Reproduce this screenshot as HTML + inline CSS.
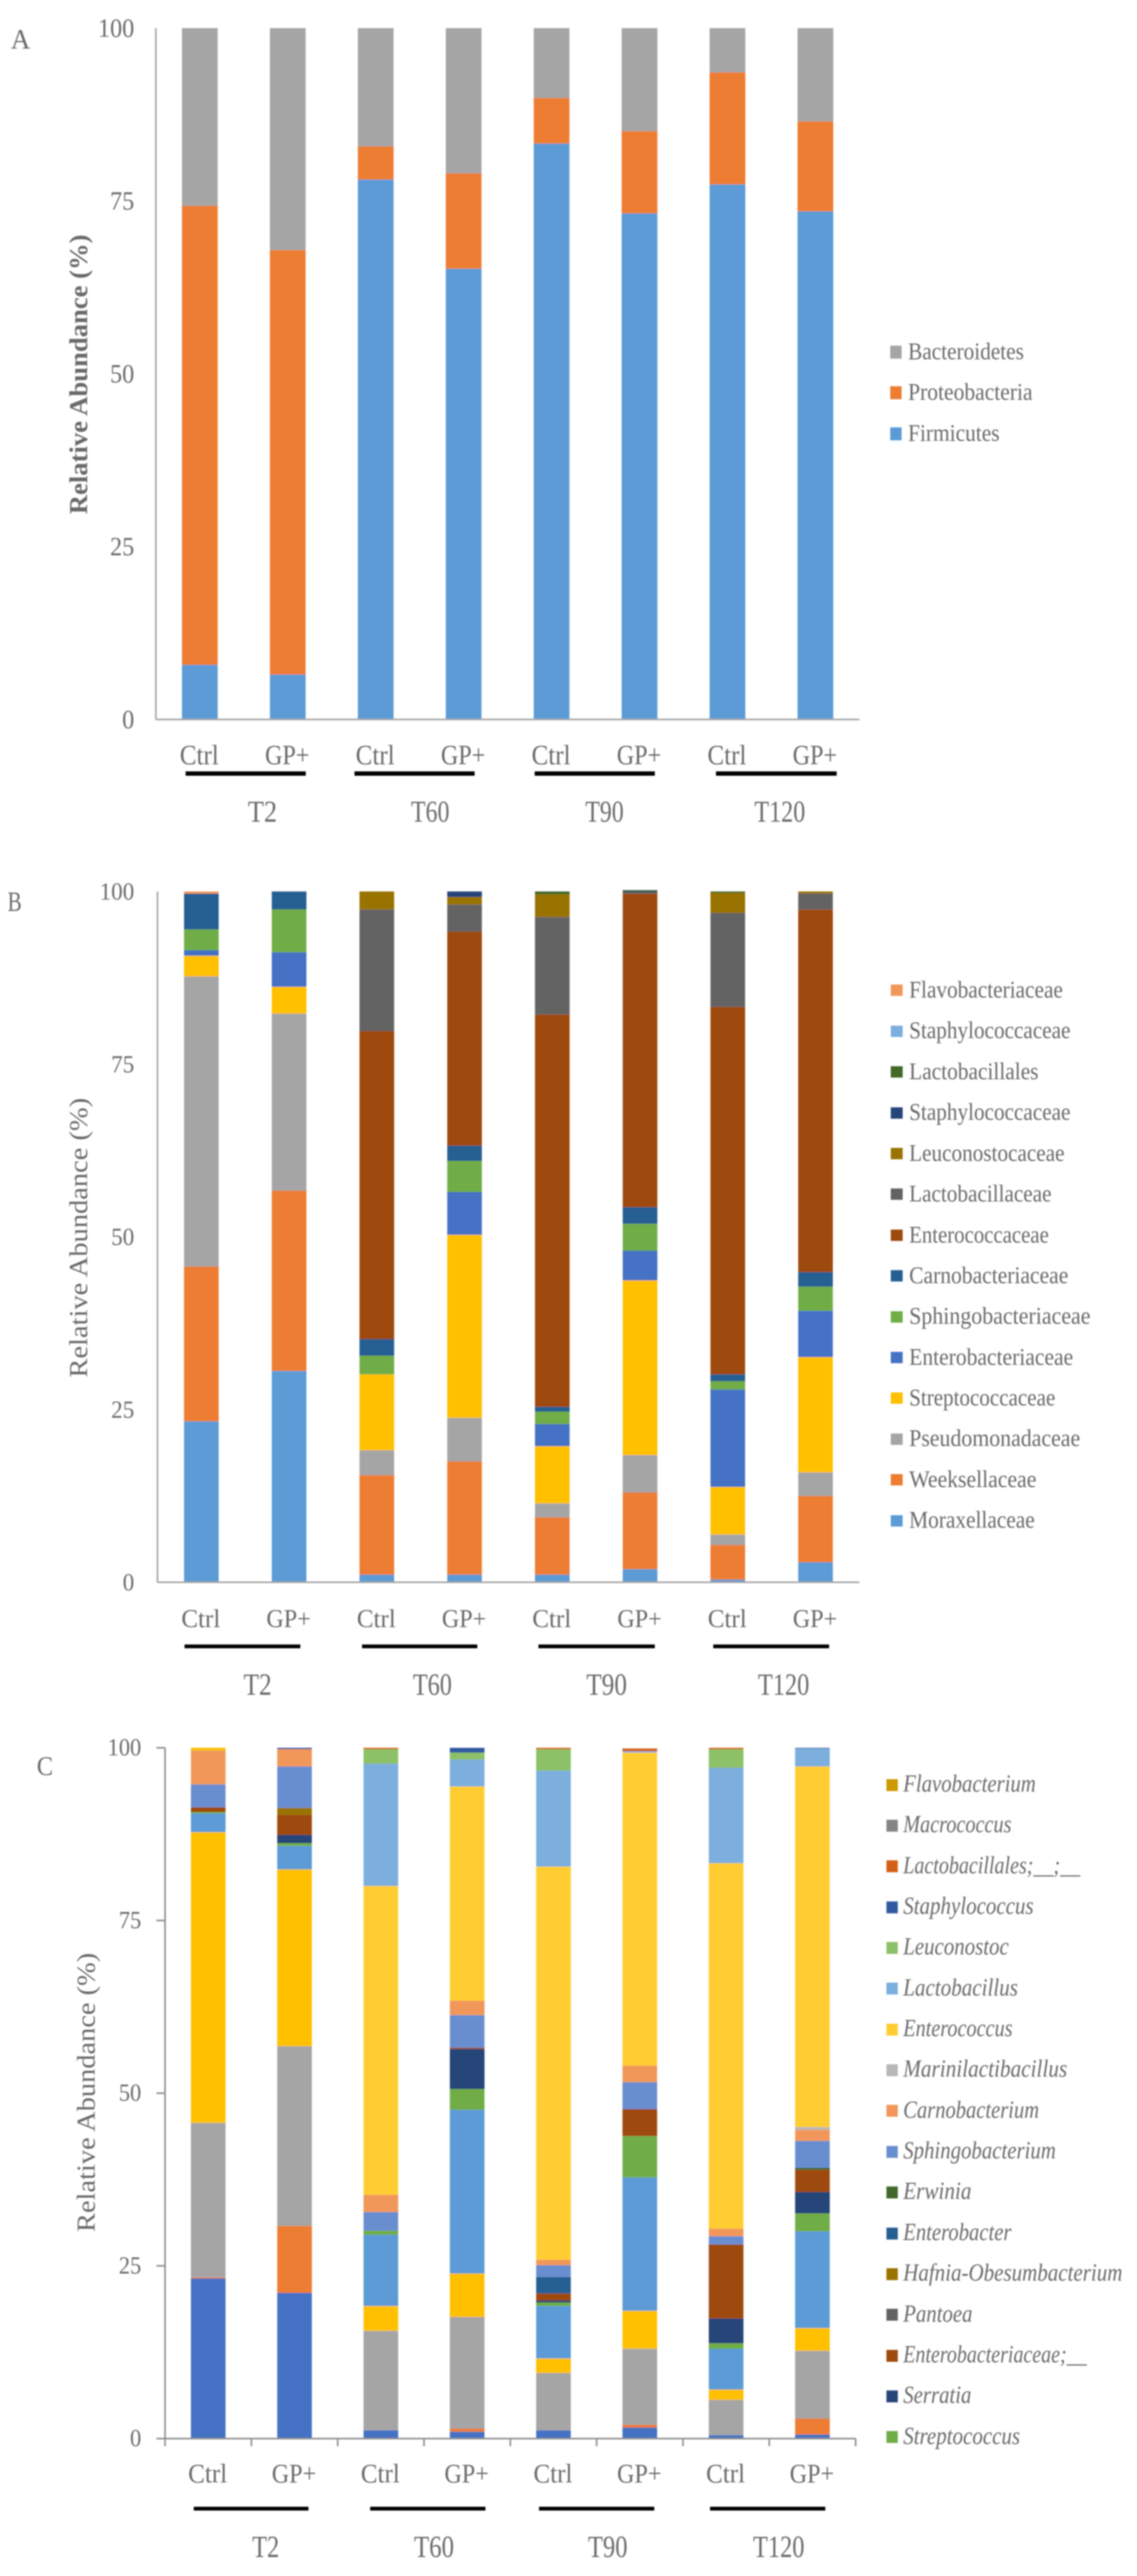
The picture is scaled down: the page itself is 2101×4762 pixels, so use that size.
<!DOCTYPE html>
<html lang="en">
<head>
<meta charset="utf-8">
<title>Relative abundance stacked bar charts</title>
<style>
html,body{margin:0;padding:0;background:#fff;}
svg{display:block;}
text{font-family:"Liberation Serif",serif;fill:#6b6b6b;}
.leg{font-size:44px;}
.legi{font-size:45px;font-style:italic;}
</style>
</head>
<body>
<svg id="figure" xmlns="http://www.w3.org/2000/svg" width="2101" height="4762" viewBox="0 0 2101 4762">
<defs><filter id="soft" x="0" y="0" width="100%" height="100%"><feGaussianBlur stdDeviation="1.2"/></filter></defs>
<rect width="2101" height="4762" fill="#fff"/>
<g filter="url(#soft)">

<g id="panel-a">
  <text x="20" y="90" font-size="52" textLength="36" lengthAdjust="spacingAndGlyphs">A</text>
  <text transform="rotate(-90 161 692)" x="161" y="692" text-anchor="middle" font-size="48" font-weight="bold" fill="#7f7f7f" textLength="517" lengthAdjust="spacingAndGlyphs">Relative Abundance (%)</text>
  <g fill="#000">
    <rect x="343" y="1426" width="222" height="8"/><rect x="655" y="1426" width="222" height="8"/><rect x="988" y="1426" width="222" height="8"/><rect x="1323" y="1426" width="223" height="8"/>
  </g>
  <g font-size="56">
    <text x="485" y="1519" text-anchor="middle" textLength="54" lengthAdjust="spacingAndGlyphs">T2</text>
    <text x="795" y="1519" text-anchor="middle" textLength="71" lengthAdjust="spacingAndGlyphs">T60</text>
    <text x="1117" y="1519" text-anchor="middle" textLength="71" lengthAdjust="spacingAndGlyphs">T90</text>
    <text x="1441" y="1519" text-anchor="middle" textLength="94" lengthAdjust="spacingAndGlyphs">T120</text>
  </g>
  <g>
    <g><rect x="1645" y="639" width="21" height="24" fill="#a5a5a5"/><text class="leg" x="1678" y="664" textLength="214" lengthAdjust="spacingAndGlyphs">Bacteroidetes</text></g>
    <g><rect x="1645" y="714" width="21" height="24" fill="#ed7d31"/><text class="leg" x="1678" y="739" textLength="230" lengthAdjust="spacingAndGlyphs">Proteobacteria</text></g>
    <g><rect x="1645" y="790" width="21" height="24" fill="#5b9bd5"/><text class="leg" x="1678" y="815" textLength="169" lengthAdjust="spacingAndGlyphs">Firmicutes</text></g>
  </g>
</g>

<g id="panel-b">
  <text x="14" y="1684" font-size="52" textLength="26" lengthAdjust="spacingAndGlyphs">B</text>
  <text transform="rotate(-90 161 2288)" x="161" y="2288" text-anchor="middle" font-size="48" textLength="517" lengthAdjust="spacingAndGlyphs">Relative Abundance (%)</text>
  <g fill="#000">
    <rect x="341" y="3040" width="214" height="7"/><rect x="669" y="3040" width="213" height="7"/><rect x="995" y="3040" width="215" height="7"/><rect x="1318" y="3040" width="214" height="7"/>
  </g>
  <g font-size="57">
    <text x="476" y="3133" text-anchor="middle" textLength="52" lengthAdjust="spacingAndGlyphs">T2</text>
    <text x="799" y="3133" text-anchor="middle" textLength="72" lengthAdjust="spacingAndGlyphs">T60</text>
    <text x="1121" y="3133" text-anchor="middle" textLength="75" lengthAdjust="spacingAndGlyphs">T90</text>
    <text x="1448" y="3133" text-anchor="middle" textLength="95" lengthAdjust="spacingAndGlyphs">T120</text>
  </g>
  <g>
    <g><rect x="1646" y="1820" width="22" height="21" fill="#f1975a"/><text class="leg" x="1680" y="1844" textLength="284" lengthAdjust="spacingAndGlyphs">Flavobacteriaceae</text></g>
    <g><rect x="1646" y="1896" width="22" height="21" fill="#7cafdd"/><text class="leg" x="1680" y="1919" textLength="298" lengthAdjust="spacingAndGlyphs">Staphylococcaceae</text></g>
    <g><rect x="1646" y="1971" width="22" height="21" fill="#43682b"/><text class="leg" x="1680" y="1995" textLength="239" lengthAdjust="spacingAndGlyphs">Lactobacillales</text></g>
    <g><rect x="1646" y="2047" width="22" height="21" fill="#264478"/><text class="leg" x="1680" y="2070" textLength="298" lengthAdjust="spacingAndGlyphs">Staphylococcaceae</text></g>
    <g><rect x="1646" y="2122" width="22" height="21" fill="#997300"/><text class="leg" x="1680" y="2146" textLength="287" lengthAdjust="spacingAndGlyphs">Leuconostocaceae</text></g>
    <g><rect x="1646" y="2197" width="22" height="21" fill="#636363"/><text class="leg" x="1680" y="2221" textLength="263" lengthAdjust="spacingAndGlyphs">Lactobacillaceae</text></g>
    <g><rect x="1646" y="2273" width="22" height="21" fill="#9e480e"/><text class="leg" x="1680" y="2297" textLength="258" lengthAdjust="spacingAndGlyphs">Enterococcaceae</text></g>
    <g><rect x="1646" y="2348" width="22" height="21" fill="#255e91"/><text class="leg" x="1680" y="2372" textLength="294" lengthAdjust="spacingAndGlyphs">Carnobacteriaceae</text></g>
    <g><rect x="1646" y="2424" width="22" height="21" fill="#70ad47"/><text class="leg" x="1680" y="2447" textLength="335" lengthAdjust="spacingAndGlyphs">Sphingobacteriaceae</text></g>
    <g><rect x="1646" y="2499" width="22" height="21" fill="#4472c4"/><text class="leg" x="1680" y="2523" textLength="303" lengthAdjust="spacingAndGlyphs">Enterobacteriaceae</text></g>
    <g><rect x="1646" y="2574" width="22" height="21" fill="#ffc000"/><text class="leg" x="1680" y="2598" textLength="270" lengthAdjust="spacingAndGlyphs">Streptococcaceae</text></g>
    <g><rect x="1646" y="2650" width="22" height="21" fill="#a5a5a5"/><text class="leg" x="1680" y="2673" textLength="316" lengthAdjust="spacingAndGlyphs">Pseudomonadaceae</text></g>
    <g><rect x="1646" y="2725" width="22" height="21" fill="#ed7d31"/><text class="leg" x="1680" y="2749" textLength="235" lengthAdjust="spacingAndGlyphs">Weeksellaceae</text></g>
    <g><rect x="1646" y="2801" width="22" height="21" fill="#5b9bd5"/><text class="leg" x="1680" y="2824" textLength="232" lengthAdjust="spacingAndGlyphs">Moraxellaceae</text></g>
  </g>
</g>

<g id="panel-c">
  <text x="68" y="3281" font-size="50" textLength="30" lengthAdjust="spacingAndGlyphs">C</text>
  <text transform="rotate(-90 175 3868)" x="175" y="3868" text-anchor="middle" font-size="48" textLength="516" lengthAdjust="spacingAndGlyphs">Relative Abundance (%)</text>
  <g fill="#000">
    <rect x="358" y="4634" width="212" height="7"/><rect x="684" y="4634" width="213" height="7"/><rect x="996" y="4634" width="213" height="7"/><rect x="1312" y="4634" width="213" height="7"/>
  </g>
  <g font-size="57">
    <text x="491" y="4727" text-anchor="middle" textLength="50" lengthAdjust="spacingAndGlyphs">T2</text>
    <text x="802" y="4727" text-anchor="middle" textLength="74" lengthAdjust="spacingAndGlyphs">T60</text>
    <text x="1123" y="4727" text-anchor="middle" textLength="73" lengthAdjust="spacingAndGlyphs">T90</text>
    <text x="1439" y="4727" text-anchor="middle" textLength="95" lengthAdjust="spacingAndGlyphs">T120</text>
  </g>
  <g>
    <g><rect x="1638" y="3289" width="21" height="22" fill="#cc9a00"/><text class="legi" x="1669" y="3312" textLength="245" lengthAdjust="spacingAndGlyphs">Flavobacterium</text></g>
    <g><rect x="1638" y="3364" width="21" height="22" fill="#848484"/><text class="legi" x="1669" y="3387" textLength="200" lengthAdjust="spacingAndGlyphs">Macrococcus</text></g>
    <g><rect x="1638" y="3439" width="21" height="22" fill="#d26012"/><text class="legi" x="1669" y="3463" textLength="327" lengthAdjust="spacingAndGlyphs">Lactobacillales;__;__</text></g>
    <g><rect x="1638" y="3515" width="21" height="22" fill="#335aa1"/><text class="legi" x="1669" y="3538" textLength="241" lengthAdjust="spacingAndGlyphs">Staphylococcus</text></g>
    <g><rect x="1638" y="3590" width="21" height="22" fill="#8cc168"/><text class="legi" x="1669" y="3613" textLength="195" lengthAdjust="spacingAndGlyphs">Leuconostoc</text></g>
    <g><rect x="1638" y="3665" width="21" height="22" fill="#7cafdd"/><text class="legi" x="1669" y="3689" textLength="212" lengthAdjust="spacingAndGlyphs">Lactobacillus</text></g>
    <g><rect x="1638" y="3741" width="21" height="22" fill="#ffcd33"/><text class="legi" x="1669" y="3764" textLength="202" lengthAdjust="spacingAndGlyphs">Enterococcus</text></g>
    <g><rect x="1638" y="3816" width="21" height="22" fill="#b7b7b7"/><text class="legi" x="1669" y="3839" textLength="303" lengthAdjust="spacingAndGlyphs">Marinilactibacillus</text></g>
    <g><rect x="1638" y="3891" width="21" height="22" fill="#f1975a"/><text class="legi" x="1669" y="3915" textLength="251" lengthAdjust="spacingAndGlyphs">Carnobacterium</text></g>
    <g><rect x="1638" y="3967" width="21" height="22" fill="#698ed0"/><text class="legi" x="1669" y="3990" textLength="282" lengthAdjust="spacingAndGlyphs">Sphingobacterium</text></g>
    <g><rect x="1638" y="4042" width="21" height="22" fill="#43682b"/><text class="legi" x="1669" y="4065" textLength="126" lengthAdjust="spacingAndGlyphs">Erwinia</text></g>
    <g><rect x="1638" y="4118" width="21" height="22" fill="#255e91"/><text class="legi" x="1669" y="4141" textLength="200" lengthAdjust="spacingAndGlyphs">Enterobacter</text></g>
    <g><rect x="1638" y="4193" width="21" height="22" fill="#997300"/><text class="legi" x="1669" y="4216" textLength="405" lengthAdjust="spacingAndGlyphs">Hafnia-Obesumbacterium</text></g>
    <g><rect x="1638" y="4268" width="21" height="22" fill="#636363"/><text class="legi" x="1669" y="4292" textLength="128" lengthAdjust="spacingAndGlyphs">Pantoea</text></g>
    <g><rect x="1638" y="4344" width="21" height="22" fill="#9e480e"/><text class="legi" x="1669" y="4367" textLength="339" lengthAdjust="spacingAndGlyphs">Enterobacteriaceae;__</text></g>
    <g><rect x="1638" y="4419" width="21" height="22" fill="#264478"/><text class="legi" x="1669" y="4442" textLength="126" lengthAdjust="spacingAndGlyphs">Serratia</text></g>
    <g><rect x="1638" y="4494" width="21" height="22" fill="#70ad47"/><text class="legi" x="1669" y="4518" textLength="216" lengthAdjust="spacingAndGlyphs">Streptococcus</text></g>
  </g>
</g>
</g>
</svg>

<script>
// Shared axis categories and tick labels
const categories = ['Ctrl','GP+','Ctrl','GP+','Ctrl','GP+','Ctrl','GP+'];
const yTickLabels = [0,25,50,75,100];

// Panel A series
const firmicutes     = [7.9,6.5,78.1,65.2,83.3,73.2,77.4,73.5];
const proteobacteria = [66.4,61.4,4.8,13.8,6.6,11.9,16.2,13.0];
const bacteroidetes  = [25.7,32.1,17.1,21.0,10.1,14.9,6.4,13.5];

// Panel B series
const moraxellaceae       = [23.3,30.6,1.1,1.1,1.1,1.9,0.4,2.9];
const weeksellaceae       = [22.4,26.1,14.4,16.4,8.3,11.1,5.0,9.6];
const pseudomonadaceae    = [42.0,25.6,3.6,6.3,2.0,5.4,1.5,3.4];
const streptococcaceae    = [3.0,3.9,11.0,26.5,8.3,25.3,6.9,16.7];
const enterobacteriaceae  = [0.8,5.0,0,6.2,3.2,4.3,14.1,6.7];
const sphingobacteriaceae = [3.0,6.2,2.7,4.5,1.8,3.9,1.2,3.5];
const carnobacteriaceae   = [5.2,2.6,2.4,2.2,0.7,2.4,1.0,2.1];
const enterococcaceae     = [0,0,44.6,31.0,56.8,45.4,53.2,52.5];
const lactobacillaceae    = [0,0,17.6,3.9,14.1,0.2,13.6,2.3];
const leuconostocaceae    = [0,0,2.6,1.1,3.3,0,2.9,0.3];
const staphylococcaceaeDark = [0,0,0,0.8,0,0.1,0,0];
const lactobacillalesFam  = [0,0,0,0,0.4,0.2,0.2,0];
const staphylococcaceaeLight = [0,0,0,0,0,0,0,0];
const flavobacteriaceae   = [0.3,0,0,0,0,0,0,0];

// Panel C series
const genusBlue       = [23.2,21.1,1.2,1.0,1.2,1.6,0.5,0.6];
const genusOrange     = [0.15,9.7,0,0.45,0,0.4,0,2.3];
const genusGray       = [22.35,26.0,14.4,16.15,8.3,11.0,5.1,9.8];
const genusGold       = [42.1,25.6,3.6,6.3,2.1,5.5,1.5,3.3];
const genusLightBlue  = [2.7,3.4,10.3,23.7,7.6,19.3,5.9,14.0];
const streptococcus   = [0.2,0.4,0.6,3.0,0.5,6.0,0.8,2.6];
const serratia        = [0,1.2,0,5.8,0.3,0,3.6,3.1];
const enterobacUnclass= [0.7,2.9,0,0.2,1.0,3.9,10.7,3.2];
const pantoea         = [0,0,0,0,0,0,0,0];
const hafnia          = [0,1.0,0,0,0,0,0,0];
const enterobacter    = [0,0,0,0,2.4,0,0,0];
const erwinia         = [0,0,0,0,0,0,0,0.3];
const sphingobacterium= [3.3,6.0,2.7,4.7,1.7,3.9,1.2,3.9];
const carnobacterium  = [4.9,2.5,2.5,2.1,0.8,2.4,1.1,1.6];
const marinilactibacillus = [0,0,0,0,0,0,0,0.4];
const enterococcus    = [0,0,44.7,31.0,56.9,45.3,52.9,52.2];
const lactobacillus   = [0,0,17.7,3.9,13.9,0.2,13.8,2.6];
const leuconostoc     = [0,0,2.1,1.0,3.1,0,2.7,0];
const staphylococcus  = [0,0.2,0,0.7,0,0,0,0.1];
const lactobacillalesGen = [0,0,0.2,0,0.2,0.4,0.2,0];
const macrococcus     = [0,0,0,0,0,0,0,0];
const flavobacterium  = [0.4,0,0,0,0,0,0,0];

const SVG_NS = 'http://www.w3.org/2000/svg';

function makeEl(tag, attrs, parent) {
  const el = document.createElementNS(SVG_NS, tag);
  Object.keys(attrs).forEach(function (k) { el.setAttribute(k, attrs[k]); });
  parent.appendChild(el);
  return el;
}

function drawPanel(cfg) {
  const root = document.getElementById(cfg.id);
  const yScale = function (v) { return cfg.y0 - (v / 100) * (cfg.y0 - cfg.y100); };
  const slot = (cfg.xEnd - cfg.xStart) / categories.length;
  const xScale = function (i) { return cfg.xStart + slot * (i + 0.5); };

  const barsGroup = makeEl('g', {}, root);
  
  
  categories.forEach(function (cat, i) {
    let cum = 0;
    cfg.series.forEach(function (s) {
      const v = s.values[i];
      if (v > 0) {
        const top = yScale(cum + v);
        const bottom = yScale(cum);
        const seg = makeEl('rect', {
          x: xScale(i) - cfg.barWidth / 2,
          y: top,
          width: cfg.barWidth,
          height: bottom - top,
          fill: s.color
        }, barsGroup);
        
        
      }
      cum += v;
    });
  });

  const yAxis = makeEl('line', {x1: cfg.xStart, x2: cfg.xStart, y1: cfg.y100, y2: cfg.y0, stroke: cfg.axisColor, 'stroke-width': 3}, root);
  
  
  const xAxis = makeEl('line', {x1: cfg.xStart, x2: cfg.xEnd, y1: cfg.y0, y2: cfg.y0, stroke: cfg.axisColor, 'stroke-width': 3}, root);
  
  

  yTickLabels.forEach(function (t) {
    const label = String(t);
    const lab = makeEl('text', {
      x: cfg.tickRight, y: yScale(t) + cfg.tickDrop, 'text-anchor': 'end', 'font-size': cfg.tickSize,
      textLength: label.length * cfg.digitWidth, lengthAdjust: 'spacingAndGlyphs'
    }, root);
    lab.textContent = label;
    
    
    if (cfg.outerTicks) {
      const tk = makeEl('line', {x1: cfg.xStart - 16, x2: cfg.xStart, y1: yScale(t), y2: yScale(t), stroke: cfg.axisColor, 'stroke-width': 3}, root);
      
      
    }
  });

  if (cfg.outerTicks) {
    for (let i = 0; i <= categories.length; i++) {
      const bx = cfg.xStart + slot * i;
      const tk = makeEl('line', {x1: bx, x2: bx, y1: cfg.y0, y2: cfg.y0 + 14, stroke: cfg.axisColor, 'stroke-width': 3}, root);
      
      
    }
  }

  categories.forEach(function (cat, i) {
    const lab = makeEl('text', {
      x: xScale(i) - 1, y: cfg.catBaseline, 'text-anchor': 'middle', 'font-size': cfg.catSize,
      textLength: cat === 'Ctrl' ? 72 : 82, lengthAdjust: 'spacingAndGlyphs'
    }, root);
    lab.textContent = cat;
    
    
  });
}

drawPanel({
  id: 'panel-a', y0: 1330, y100: 52, xStart: 288, xEnd: 1588, barWidth: 66,
  axisColor: '#a6a6a6', tickRight: 248, tickSize: 49, tickDrop: 16, digitWidth: 22.3, catBaseline: 1413, catSize: 52, outerTicks: false,
  series: [
    {key: 'firmicutes', values: firmicutes, color: '#5b9bd5'},
    {key: 'proteobacteria', values: proteobacteria, color: '#ed7d31'},
    {key: 'bacteroidetes', values: bacteroidetes, color: '#a5a5a5'}
  ]
});

drawPanel({
  id: 'panel-b', y0: 2925, y100: 1648, xStart: 291, xEnd: 1588, barWidth: 64,
  axisColor: '#a6a6a6', tickRight: 248, tickSize: 45, tickDrop: 15, digitWidth: 21.3, catBaseline: 3008, catSize: 48, outerTicks: false,
  series: [
    {key: 'moraxellaceae', values: moraxellaceae, color: '#5b9bd5'},
    {key: 'weeksellaceae', values: weeksellaceae, color: '#ed7d31'},
    {key: 'pseudomonadaceae', values: pseudomonadaceae, color: '#a5a5a5'},
    {key: 'streptococcaceae', values: streptococcaceae, color: '#ffc000'},
    {key: 'enterobacteriaceae', values: enterobacteriaceae, color: '#4472c4'},
    {key: 'sphingobacteriaceae', values: sphingobacteriaceae, color: '#70ad47'},
    {key: 'carnobacteriaceae', values: carnobacteriaceae, color: '#255e91'},
    {key: 'enterococcaceae', values: enterococcaceae, color: '#9e480e'},
    {key: 'lactobacillaceae', values: lactobacillaceae, color: '#636363'},
    {key: 'leuconostocaceae', values: leuconostocaceae, color: '#997300'},
    {key: 'staphylococcaceae-dark', values: staphylococcaceaeDark, color: '#264478'},
    {key: 'lactobacillales', values: lactobacillalesFam, color: '#43682b'},
    {key: 'staphylococcaceae-light', values: staphylococcaceaeLight, color: '#7cafdd'},
    {key: 'flavobacteriaceae', values: flavobacteriaceae, color: '#f1975a'}
  ]
});

drawPanel({
  id: 'panel-c', y0: 4508, y100: 3231, xStart: 305, xEnd: 1581, barWidth: 64,
  axisColor: '#8f8f8f', tickRight: 261, tickSize: 45, tickDrop: 14, digitWidth: 20.7, catBaseline: 4589, catSize: 50, outerTicks: true,
  series: [
    {key: 'unlabelled-blue', values: genusBlue, color: '#4472c4'},
    {key: 'unlabelled-orange', values: genusOrange, color: '#ed7d31'},
    {key: 'unlabelled-gray', values: genusGray, color: '#a5a5a5'},
    {key: 'unlabelled-gold', values: genusGold, color: '#ffc000'},
    {key: 'unlabelled-light-blue', values: genusLightBlue, color: '#5b9bd5'},
    {key: 'streptococcus', values: streptococcus, color: '#70ad47'},
    {key: 'serratia', values: serratia, color: '#264478'},
    {key: 'enterobacteriaceae', values: enterobacUnclass, color: '#9e480e'},
    {key: 'pantoea', values: pantoea, color: '#636363'},
    {key: 'hafnia', values: hafnia, color: '#997300'},
    {key: 'enterobacter', values: enterobacter, color: '#255e91'},
    {key: 'erwinia', values: erwinia, color: '#43682b'},
    {key: 'sphingobacterium', values: sphingobacterium, color: '#698ed0'},
    {key: 'carnobacterium', values: carnobacterium, color: '#f1975a'},
    {key: 'marinilactibacillus', values: marinilactibacillus, color: '#b7b7b7'},
    {key: 'enterococcus', values: enterococcus, color: '#ffcd33'},
    {key: 'lactobacillus', values: lactobacillus, color: '#7cafdd'},
    {key: 'leuconostoc', values: leuconostoc, color: '#8cc168'},
    {key: 'staphylococcus', values: staphylococcus, color: '#335aa1'},
    {key: 'lactobacillales', values: lactobacillalesGen, color: '#d26012'},
    {key: 'macrococcus', values: macrococcus, color: '#848484'},
    {key: 'flavobacterium', values: flavobacterium, color: '#ffc000'}
  ]
});
</script>
</body>
</html>
